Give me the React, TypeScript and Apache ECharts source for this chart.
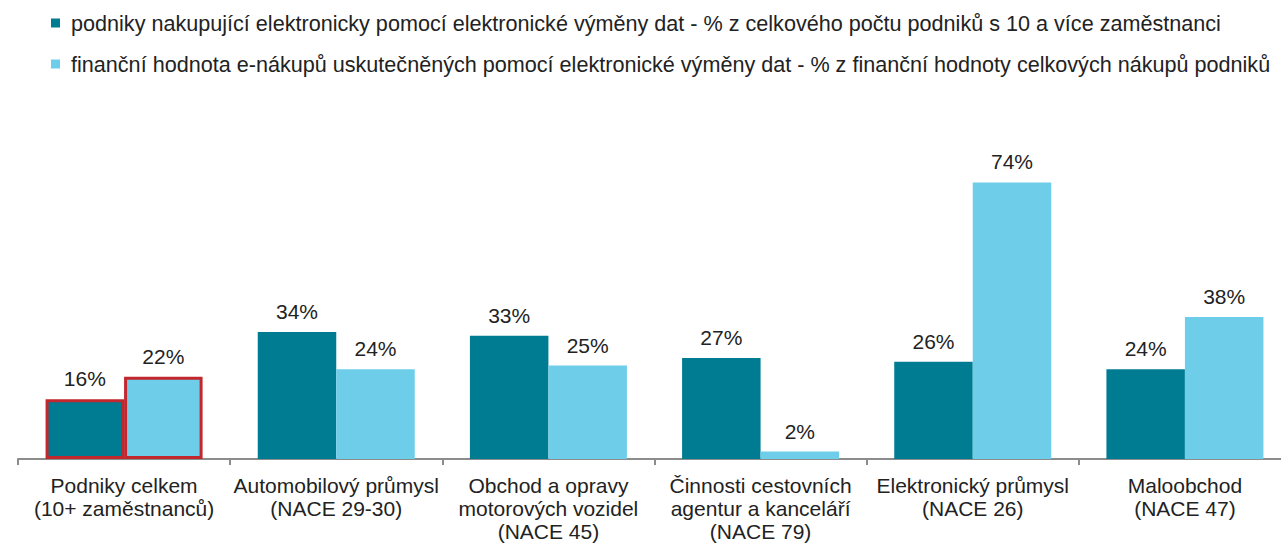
import React, { useEffect, useRef } from "react";
import * as echarts from "echarts";

const categories = [
  "Podniky celkem\n(10+ zaměstnanců)",
  "Automobilový průmysl\n(NACE 29-30)",
  "Obchod a opravy\nmotorových vozidel\n(NACE 45)",
  "Činnosti cestovních\nagentur a kanceláří\n(NACE 79)",
  "Elektronický průmysl\n(NACE 26)",
  "Maloobchod\n(NACE 47)",
];
const seriesNames = [
  "podniky nakupující elektronicky pomocí elektronické výměny dat - % z celkového počtu podniků s 10 a více zaměstnanci",
  "finanční hodnota e-nákupů uskutečněných pomocí elektronické výměny dat - % z finanční hodnoty celkových nákupů podniků",
];
const enterprisesShare = [16, 34, 33, 27, 26, 24];
const valueShare = [22, 24, 25, 2, 74, 38];
const highlightIndex = 0;

const FONT = "'Liberation Sans', Arial, sans-serif";

function withHighlight(values: number[]) {
  return values.map((v, i) =>
    i === highlightIndex
      ? { value: v, itemStyle: { borderColor: "#C1272D", borderWidth: 3 } }
      : v
  );
}

export default function App() {
  const ref = useRef<HTMLDivElement>(null);
  useEffect(() => {
    if (!ref.current) return;
    const chart = echarts.init(ref.current, undefined, { renderer: "svg" });
    const label = {
      show: true,
      position: "top" as const,
      distance: 10,
      formatter: "{c}%",
      color: "#222222",
      fontFamily: FONT,
      fontSize: 21,
    };
    chart.setOption({
      animation: false,
      backgroundColor: "#ffffff",
      legend: {
        orient: "vertical",
        left: 46,
        top: 7,
        width: 1250,
        itemWidth: 9,
        itemHeight: 9,
        itemGap: 19,
        icon: "rect",
        textStyle: { fontFamily: FONT, fontSize: 21.6, color: "#222222", padding: [0, 0, 0, 6] },
        data: seriesNames,
      },
      grid: { left: 18, right: 9, top: 160, bottom: 86 },
      xAxis: {
        type: "category",
        data: categories,
        axisLine: { show: true, lineStyle: { color: "#8c8c8c", width: 2 } },
        axisTick: { show: true, length: 6, lineStyle: { color: "#8c8c8c", width: 2 } },
        axisLabel: {
          margin: 15,
          fontFamily: FONT,
          fontSize: 21,
          color: "#222222",
          lineHeight: 23,
          interval: 0,
        },
      },
      yAxis: {
        type: "value",
        min: 0,
        max: 80,
        show: false,
        splitLine: { show: false },
      },
      series: [
        {
          name: seriesNames[0],
          type: "bar",
          data: withHighlight(enterprisesShare),
          itemStyle: { color: "#007C92" },
          barGap: "0%",
          barCategoryGap: "26%",
          label,
        },
        {
          name: seriesNames[1],
          type: "bar",
          data: withHighlight(valueShare),
          itemStyle: { color: "#6ECEEA" },
          barGap: "0%",
          barCategoryGap: "26%",
          label,
        },
      ],
    });
    return () => chart.dispose();
  }, []);
  return (
    <div
      ref={ref}
      style={{ position: "fixed", left: 0, top: 0, width: 1300, height: 545 }}
    />
  );
}
